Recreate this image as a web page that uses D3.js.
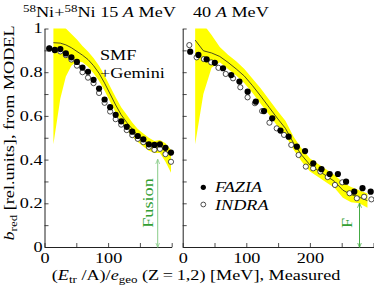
<!DOCTYPE html>
<html><head><meta charset="utf-8">
<script src="https://cdn.jsdelivr.net/npm/d3@7"></script>
<style>
html,body{margin:0;padding:0;background:#fff;}
svg{display:block;font-family:"Liberation Serif","Times New Roman",serif;}
</style></head>
<body><svg id="c" width="374" height="287"></svg>
<script>
// ---------- data: 58Ni+58Ni 15 A MeV ----------
const leftFaziaX = [7.5,16.2,24.9,33.6,42.3,51,59.7,68.4,77.1,85.8,94.5,103.2,111.9,120.6,129.3,138,146.7,155.4,164.1,172.8,181.5,190.2,198.9];
const leftFaziaY = [0.909,0.902,0.906,0.886,0.868,0.847,0.821,0.802,0.765,0.725,0.675,0.640,0.605,0.575,0.550,0.528,0.508,0.493,0.470,0.467,0.470,0.454,0.432];
const leftIndraX = [7.5,16.2,24.9,33.6,42.3,51,59.7,68.4,77.1,85.8,94.5,103.2,111.9,120.6,129.3,138,146.7,155.4,164.1,172.8,181.5,190.2,198.9];
const leftIndraY = [0.908,0.900,0.895,0.878,0.858,0.830,0.800,0.775,0.750,0.705,0.660,0.620,0.585,0.560,0.535,0.512,0.495,0.480,0.458,0.445,0.449,0.425,0.390];
const leftModelX = [14,24.9,33.6,42.3,51,59.7,68.4,77.1,85.8,94.5,103.2,111.9,120.6,129.3,138,146.7,155.4,164.1,172.8,181.5,190.2,198.9];
const leftModelY = [0.935,0.933,0.925,0.912,0.895,0.878,0.858,0.83,0.795,0.75,0.70,0.65,0.605,0.57,0.54,0.51,0.49,0.47,0.455,0.46,0.44,0.42];
const leftBandLo = [0.47,0.68,0.78,0.83,0.85,0.845,0.825,0.795,0.76,0.715,0.665,0.615,0.57,0.535,0.505,0.48,0.46,0.44,0.43,0.43,0.39,0.34];
const leftBandHi = [1.05,1.05,1.0,0.975,0.95,0.92,0.895,0.865,0.83,0.785,0.735,0.685,0.64,0.605,0.57,0.54,0.52,0.5,0.485,0.49,0.475,0.445];
const leftFusion = 178;

// ---------- data: 40 A MeV ----------
const rightFaziaX = [11.8,24.7,37.6,50.5,63.4,76.3,89.2,102.1,115,127.9,140.8,153.7,166.6,179.5,192.4,205.3,218.2,231.1,244,256.9,269.8,282.7,295.6];
const rightFaziaY = [0.894,0.879,0.859,0.843,0.818,0.787,0.757,0.711,0.665,0.622,0.589,0.533,0.505,0.459,0.439,0.383,0.356,0.334,0.334,0.299,0.253,0.269,0.253];
const rightIndraX = [10.4,21.9,33.3,44.8,56.2,67.7,79.1,90.6,102,113.5,124.9,136.4,147.8,159.3,170.7,182.2,193.6,205.1,216.5,228,239.4,250.9,262.3,273.8,285.2,296.7];
const rightIndraY = [0.924,0.868,0.860,0.845,0.820,0.792,0.772,0.731,0.685,0.658,0.622,0.569,0.543,0.513,0.467,0.421,0.368,0.360,0.345,0.320,0.284,0.296,0.246,0.223,0.230,0.218];
const rightModelX = [19.6,32.5,45.4,58.3,71.2,84.1,97,109.9,122.8,135.7,148.6,161.5,174.4,187.3,200.2,213.1,226,238.9,251.8,264.7,277.6,290.5];
const rightModelY = [0.947,0.898,0.888,0.872,0.845,0.815,0.782,0.738,0.69,0.64,0.59,0.543,0.475,0.42,0.375,0.35,0.325,0.30,0.26,0.24,0.228,0.212];
const rightBandLo = [0.47,0.70,0.82,0.845,0.815,0.785,0.75,0.705,0.655,0.605,0.555,0.51,0.445,0.39,0.345,0.32,0.295,0.27,0.225,0.205,0.2,0.18];
const rightBandHi = [1.05,1.02,0.97,0.915,0.88,0.85,0.815,0.77,0.725,0.675,0.625,0.578,0.505,0.45,0.405,0.38,0.355,0.33,0.295,0.275,0.26,0.245];
const rightFusion = 278;

// ---------- ticks ----------
const yTickValues = [0,0.1,0.2,0.3,0.4,0.5,0.6,0.7,0.8,0.9,1];
const yTickLabels = {0:"0",0.2:"0.2",0.4:"0.4",0.6:"0.6",0.8:"0.8",1:"1"};
const leftXTicks = [0,50,100,150,200];
const leftXLabels = {0:"0",100:"100"};
const rightXTicks = [0,50,100,150,200,250,300];
const rightXLabels = {0:"0",100:"100",200:"200"};

const SX = 1.3; // horizontal glyph stretch of the original
const svg = d3.select("#c");
const y = d3.scaleLinear().domain([0,1]).range([247,28.5]);
const xL = d3.scaleLinear().domain([0,200]).range([44.5,171.7]);
const xR = d3.scaleLinear().domain([0,300]).range([182.7,373.5]);

const defs = svg.append("defs");
function clip(id, xs){
  defs.append("clipPath").attr("id",id).append("rect")
    .attr("x",xs.range()[0]).attr("y",y(1)).attr("width",xs.range()[1]-xs.range()[0]).attr("height",y(0)-y(1));
}
clip("cl",xL); clip("cr",xR);

function panel(xs, clipId, fx, fy, ix, iy, mx, my, lo, hi){
  const g = svg.append("g");
  const band = mx.map((v,i)=>({x:v,lo:lo[i],hi:hi[i]}));
  g.append("path").attr("clip-path",`url(#${clipId})`)
    .attr("d", d3.area().x(d=>xs(d.x)).y0(d=>y(d.lo)).y1(d=>y(d.hi))(band))
    .attr("fill","#ffff00").attr("stroke","none");
  g.append("path").attr("clip-path",`url(#${clipId})`)
    .attr("d", d3.line().x((d,i)=>xs(d)).y((d,i)=>y(my[i]))(mx))
    .attr("fill","none").attr("stroke","#222").attr("stroke-width",0.8);
  g.selectAll(".o").data(ix).join("circle")
    .attr("cx",d=>xs(d)).attr("cy",(d,i)=>y(iy[i])).attr("r",2.6)
    .attr("fill","#fff").attr("stroke","#222").attr("stroke-width",0.8);
  g.selectAll(".f").data(fx).join("circle")
    .attr("cx",d=>xs(d)).attr("cy",(d,i)=>y(fy[i])).attr("r",3.1)
    .attr("fill","#000");
}
panel(xL,"cl",leftFaziaX,leftFaziaY,leftIndraX,leftIndraY,leftModelX,leftModelY,leftBandLo,leftBandHi);
panel(xR,"cr",rightFaziaX,rightFaziaY,rightIndraX,rightIndraY,rightModelX,rightModelY,rightBandLo,rightBandHi);

// ---------- axes ----------
function styleAxis(g){
  g.select(".domain").attr("stroke","#222").attr("stroke-width",1);
  g.selectAll(".tick line").attr("stroke","#222").attr("stroke-width",0.8);
  g.selectAll("text").attr("font-family","Liberation Serif, serif").attr("font-size",14).attr("fill","#000");
}
function xAxis(xs, ticks, labels){
  const g = svg.append("g").attr("transform",`translate(0,${y(0)})`)
    .call(d3.axisBottom(xs).tickValues(ticks).tickSizeInner(-4).tickSizeOuter(0).tickPadding(6.5)
      .tickFormat(d=>labels[d]||""));
  styleAxis(g);
  g.selectAll("text").attr("transform",`scale(${SX},1)`);
}
function yAxis(xs, withLabels){
  const g = svg.append("g").attr("transform",`translate(${xs.range()[0]},0)`)
    .call(d3.axisLeft(y).tickValues(yTickValues).tickSizeInner(-4).tickSizeOuter(0).tickPadding(1.5)
      .tickFormat(d=>withLabels ? (yTickLabels[Math.round(d*10)/10]||"") : ""));
  styleAxis(g);
  g.selectAll("text").attr("transform",`scale(${SX},1)`);
}
xAxis(xL,leftXTicks,leftXLabels);
xAxis(xR,rightXTicks,rightXLabels);
yAxis(xL,true);
yAxis(xR,false);

// ---------- texts ----------
function txt(x, yy, parts, opt={}){
  const t = svg.append("text")
    .attr("transform",`translate(${x},${yy})${opt.rot?" rotate(-90)":""} scale(${SX},1)`)
    .attr("font-size",opt.size||14).attr("fill",opt.fill||"#000")
    .attr("text-anchor",opt.anchor||"start");
  parts.forEach(p=>{
    const s = t.append("tspan").text(p.t);
    if(p.i) s.attr("font-style","italic");
    if(p.fs) s.attr("font-size",p.fs);
    if(p.dy) s.attr("dy",p.dy);
  });
  return t;
}
txt(23,17,[{t:"58",fs:10,dy:-5},{t:"Ni+",dy:5},{t:"58",fs:10,dy:-5},{t:"Ni 15 ",dy:5},{t:"A",i:1},{t:" MeV"}]);
txt(193,17,[{t:"40 "},{t:"A",i:1},{t:" MeV"}]);
txt(100,60,[{t:"SMF"}]);
txt(100,78,[{t:"+Gemini"}]);
// legend
svg.append("circle").attr("cx",203.3).attr("cy",187.3).attr("r",2.6).attr("fill","#000");
svg.append("circle").attr("cx",203.3).attr("cy",204.5).attr("r",2.4).attr("fill","#fff").attr("stroke","#222").attr("stroke-width",0.8);
txt(215,192,[{t:"FAZIA",i:1}]);
txt(215,210,[{t:"INDRA",i:1}]);
// axis titles
txt(196,280,[{t:"("},{t:"E",i:1},{t:"tr",fs:10,dy:3},{t:" /A)/",dy:-3},{t:"e",i:1},{t:"geo",fs:10,dy:3},{t:" (Z\u2009=\u20091,2) [MeV], Measured",dy:-3}],{anchor:"middle"});
txt(14,133,[{t:"b",i:1},{t:"red",fs:10,dy:3},{t:" [rel.units], from MODEL",dy:-3}],{rot:1,anchor:"middle"});

// fusion arrows
defs.append("marker").attr("id","ah").attr("viewBox","0 0 10 10").attr("refX",9).attr("refY",5)
  .attr("markerWidth",5).attr("markerHeight",5).attr("orient","auto-start-reverse")
  .append("path").attr("d","M0,1 L10,5 L0,9").attr("fill","none").attr("stroke","context-stroke").attr("stroke-width",1.5);
function arrow(xs, xv, y0v, col){
  svg.append("line").attr("x1",xs(xv)).attr("x2",xs(xv)).attr("y1",y(y0v)).attr("y2",y(0))
    .attr("stroke",col).attr("stroke-width",1)
    .attr("marker-start","url(#ah)").attr("marker-end","url(#ah)");
}
arrow(xL,leftFusion,0.40,"#88cc88");
arrow(xR,rightFusion,0.20,"#44aa44");
txt(153,203,[{t:"Fusion"}],{rot:1,anchor:"middle",fill:"#33a033"});
txt(351.5,228,[{t:"F"}],{rot:1,anchor:"start",fill:"#33a033"});
</script></body></html>
